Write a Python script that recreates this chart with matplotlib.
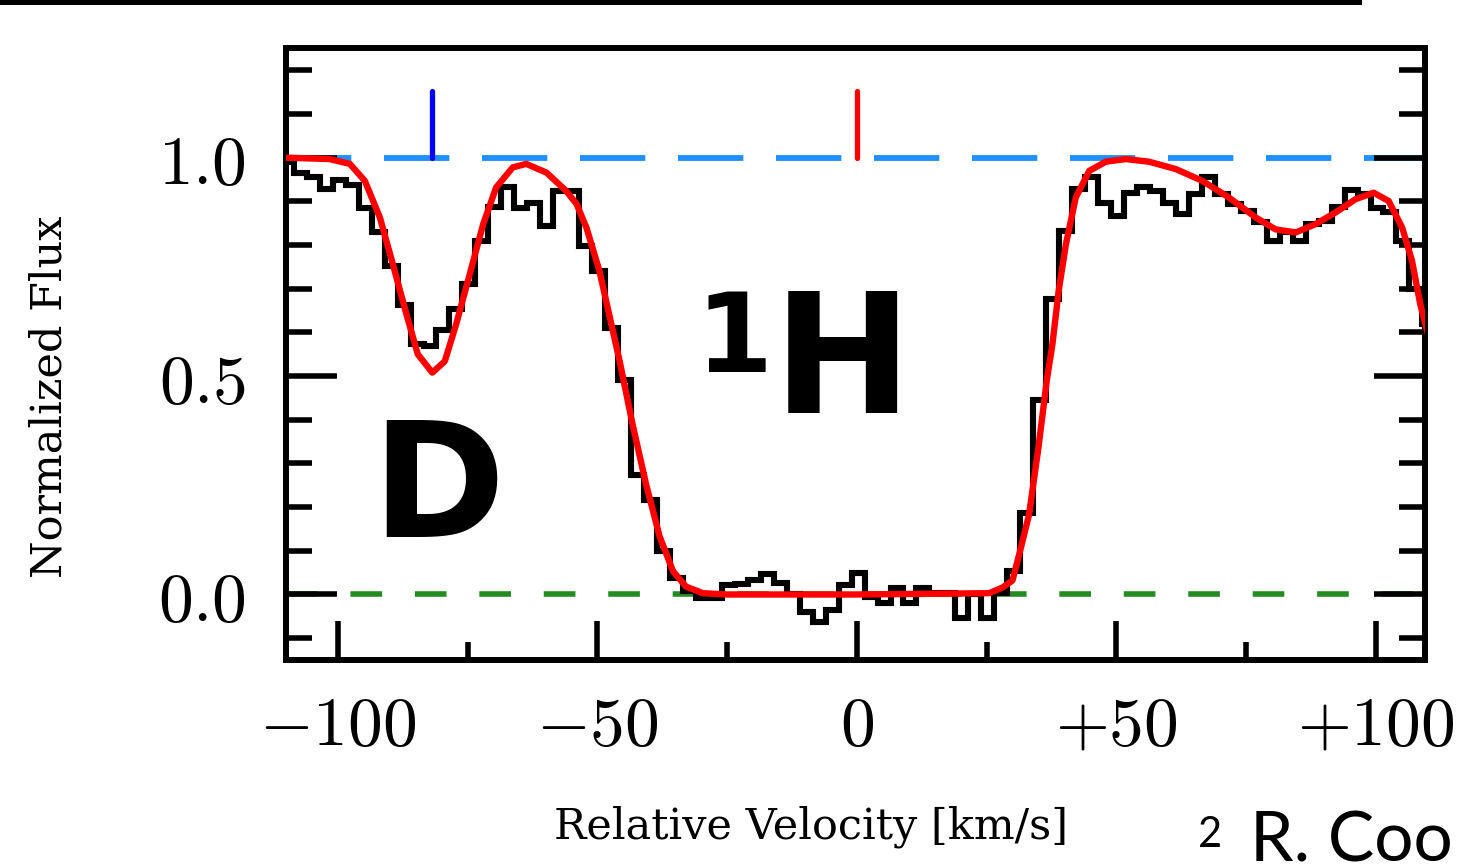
import numpy as np
import matplotlib
matplotlib.use("Agg")
import matplotlib.pyplot as plt
from matplotlib.ticker import MultipleLocator
from matplotlib.patches import Rectangle

plt.rcParams['mathtext.fontset'] = 'cm'

# observed spectrum, 2.5 km/s pixels, first bin starts at -111 km/s
bin_start = -111.0
bin_width = 2.5
flux = [0.99, 0.966, 0.955, 0.928, 0.949, 0.938, 0.886, 0.829, 0.752, 0.663,
        0.574, 0.569, 0.605, 0.653, 0.710, 0.810, 0.888, 0.932, 0.886, 0.897,
        0.844, 0.923, 0.923, 0.799, 0.741, 0.611, 0.492, 0.274, 0.217, 0.100,
        0.037, 0.007, -0.007, -0.007, 0.022, 0.025, 0.034, 0.046, 0.026, 0.0,
        -0.039, -0.062, -0.035, 0.022, 0.049, -0.005, -0.020, 0.014, -0.020, 0.014,
        0.003, 0.003, -0.054, 0.0, -0.054, 0.003, 0.053, 0.187, 0.445, 0.676,
        0.833, 0.928, 0.955, 0.897, 0.867, 0.920, 0.932, 0.923, 0.897, 0.871,
        0.917, 0.955, 0.917, 0.894, 0.878, 0.852, 0.810, 0.829, 0.810, 0.848,
        0.856, 0.888, 0.926, 0.917, 0.886, 0.875, 0.810, 0.699, 0.62]

# model fit
v_model = [-110.0, -109.3, -101.6, -97.7, -94.8, -91.9, -89.4, -86.8, -84.6, -81.8,
           -79.4, -77.2, -74.6, -72.0, -69.5, -66.3, -63.7, -59.8, -56.0, -54.0,
           -52.1, -49.6, -48.3, -45.7, -43.2, -40.6, -38.0, -35.4, -32.9, -29.7,
           -25.0, 0.0, 25.5, 28.1, 30.0, 31.6, 33.2, 35.0, 36.6, 37.7,
           38.9, 40.3, 42.2, 44.8, 48.0, 51.8, 56.3, 61.5, 66.6, 71.7,
           76.9, 80.7, 84.6, 88.4, 92.3, 96.1, 99.6, 102.5, 105.1, 107.0,
           108.6, 110.0]
f_model = [1.0, 1.0, 0.997, 0.986, 0.947, 0.863, 0.756, 0.642, 0.550, 0.508,
           0.534, 0.619, 0.733, 0.848, 0.932, 0.978, 0.986, 0.966, 0.924, 0.894,
           0.840, 0.741, 0.672, 0.534, 0.389, 0.252, 0.133, 0.053, 0.018, 0.003,
           0.0, 0.0, 0.003, 0.016, 0.032, 0.106, 0.183, 0.336, 0.489, 0.573,
           0.695, 0.802, 0.909, 0.970, 0.991, 0.997, 0.991, 0.974, 0.947, 0.909,
           0.863, 0.836, 0.829, 0.848, 0.875, 0.905, 0.920, 0.901, 0.840, 0.764,
           0.664, 0.60]

v_D = -81.8
v_H = 0.0

W, H = 1459, 865
fig = plt.figure(figsize=(W / 100, H / 100), dpi=100)
ax = fig.add_axes([286 / W, 1 - 660 / H, (1425 - 286) / W, (660 - 47.7) / H])

ax.axhline(1.0, color='#1E90FF', lw=4.2, ls=(0, (11.2, 5.6)), zorder=1)
ax.axhline(0.0, color='#228B22', lw=4.0, ls=(0, (5.7, 5.9)), zorder=1)

edges = bin_start + bin_width * np.arange(len(flux) + 1)
ax.stairs(flux, edges, color='black', lw=4.4, zorder=2)
ax.plot(v_model, f_model, color='red', lw=4.6, zorder=3)

ax.plot([v_D, v_D], [1.0, 1.153], color='blue', lw=3.8, solid_capstyle='round', zorder=4)
ax.plot([v_H, v_H], [1.0, 1.153], color='red', lw=3.8, solid_capstyle='round', zorder=4)

ax.set_xlim(-110.0, 109.5)
ax.set_ylim(-0.15, 1.252)

ax.set_xticks([-100, -50, 0, 50, 100])
ax.set_xticklabels(['$-100$', '$-50$', '$0$', '$+50$', '$+100$'])
ax.set_yticks([0.0, 0.5, 1.0])
ax.set_yticklabels(['$0.0$', '$0.5$', '$1.0$'])
ax.xaxis.set_minor_locator(MultipleLocator(25))
ax.yaxis.set_minor_locator(MultipleLocator(0.1))

ax.tick_params(axis='y', which='major', direction='in', length=37, width=4,
               left=True, right=True, pad=29, labelsize=50)
ax.tick_params(axis='y', which='minor', direction='in', length=18.5, width=4,
               left=True, right=True)
ax.tick_params(axis='x', which='major', direction='in', length=28, width=4,
               top=False, pad=23, labelsize=50)
ax.tick_params(axis='x', which='minor', direction='in', length=13, width=4, top=False)
for s in ax.spines.values():
    s.set_linewidth(4.3)

fig.text(811 / W, 1 - 838 / H, 'Relative Velocity [km/s]', family='DejaVu Serif',
         fontsize=31, ha='center', va='baseline')
fig.text(50 / W, 1 - 397 / H, 'Normalized Flux', family='DejaVu Serif',
         fontsize=31, ha='center', va='center', rotation=90)

# big isotope labels
fig.text(438 / W, 1 - 537 / H, 'D', family='DejaVu Sans', weight='bold',
         fontsize=116, ha='center', va='baseline')
fig.text(734 / W, 1 - 372 / H, '1', family='DejaVu Sans', weight='bold',
         fontsize=80, ha='center', va='baseline')
fig.text(842 / W, 1 - 413 / H, 'H', family='DejaVu Sans', weight='bold',
         fontsize=120, ha='center', va='baseline')

# slide footer and top strip
fig.text(1198 / W, 1 - 847 / H, '2', family='Lato', fontsize=30,
         ha='left', va='baseline')
fig.text(1250 / W, 1 - 862 / H, 'R. Coo', family='Lato', fontsize=50,
         ha='left', va='baseline')
fig.add_artist(Rectangle((0, 1 - 5 / H), 1362 / W, 5 / H, transform=fig.transFigure,
                         color='black', lw=0))

fig.savefig('out.png', dpi=100)
